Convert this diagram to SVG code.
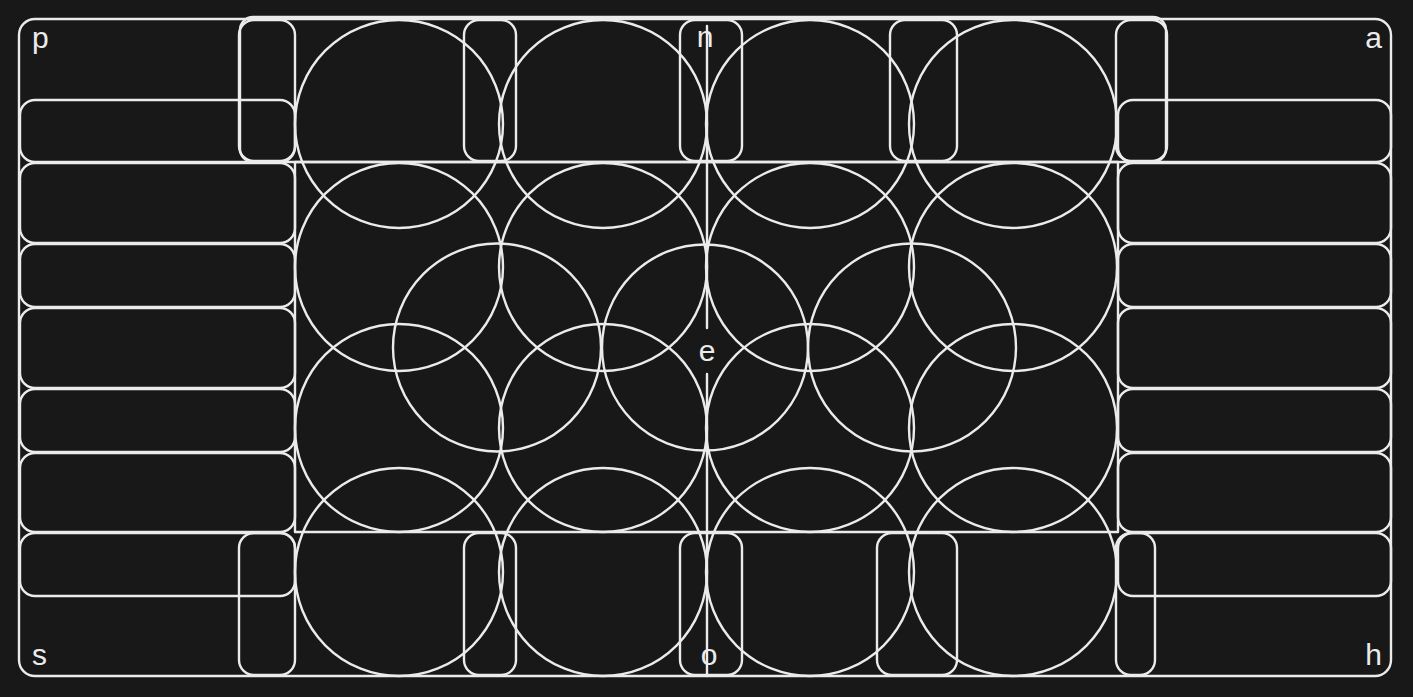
<svg xmlns="http://www.w3.org/2000/svg" width="1413" height="697" viewBox="0 0 1413 697">
<style>
.s{fill:none;stroke:#ebebeb;stroke-width:2.4;stroke-linecap:round;stroke-linejoin:round}
.t{fill:#ebebeb;font-family:"Liberation Sans",Arial,sans-serif;font-size:30px}
</style>
<rect x="0" y="0" width="1413" height="697" fill="#181818"/>
<g id="frame"><rect class="s" x="19" y="19" width="1372" height="657" rx="16"/></g>
<g id="top-band"><rect class="s" x="240" y="17" width="926" height="145" rx="13"/></g>
<g id="center-block"><rect class="s" x="295" y="162" width="823" height="370"/></g>
<g id="left-column">
<rect class="s" x="20" y="100" width="275" height="62" rx="15"/>
<rect class="s" x="20" y="163" width="275" height="80" rx="15"/>
<rect class="s" x="20" y="244" width="275" height="63" rx="15"/>
<rect class="s" x="20" y="308" width="275" height="80" rx="15"/>
<rect class="s" x="20" y="389" width="275" height="63" rx="15"/>
<rect class="s" x="20" y="453" width="275" height="79" rx="15"/>
<rect class="s" x="20" y="533" width="275" height="63" rx="15"/>
</g>
<g id="right-column">
<rect class="s" x="1118" y="100" width="273" height="62" rx="15"/>
<rect class="s" x="1118" y="163" width="273" height="80" rx="15"/>
<rect class="s" x="1118" y="244" width="273" height="63" rx="15"/>
<rect class="s" x="1118" y="308" width="273" height="80" rx="15"/>
<rect class="s" x="1118" y="389" width="273" height="63" rx="15"/>
<rect class="s" x="1118" y="453" width="273" height="79" rx="15"/>
<rect class="s" x="1118" y="533" width="273" height="63" rx="15"/>
</g>
<g id="top-pills">
<rect class="s" x="239" y="20" width="56" height="141" rx="15"/>
<rect class="s" x="464" y="20" width="52" height="141" rx="15"/>
<rect class="s" x="680" y="20" width="62" height="141" rx="15"/>
<rect class="s" x="890" y="20" width="67" height="141" rx="15"/>
<rect class="s" x="1116" y="20" width="51" height="141" rx="15"/>
</g>
<g id="bottom-pills">
<rect class="s" x="239" y="533" width="56" height="142" rx="15"/>
<rect class="s" x="464" y="533" width="52" height="142" rx="15"/>
<rect class="s" x="680" y="533" width="62" height="142" rx="15"/>
<rect class="s" x="877" y="533" width="80" height="142" rx="15"/>
<rect class="s" x="1116" y="533" width="39" height="142" rx="15"/>
</g>
<g id="circles-row1">
<circle class="s" cx="399" cy="124" r="104"/>
<circle class="s" cx="603" cy="124" r="104"/>
<circle class="s" cx="810" cy="124" r="104"/>
<circle class="s" cx="1013" cy="124" r="104"/>
</g>
<g id="circles-row2">
<circle class="s" cx="399" cy="267" r="104"/>
<circle class="s" cx="603" cy="267" r="104"/>
<circle class="s" cx="810" cy="267" r="104"/>
<circle class="s" cx="1013" cy="267" r="104"/>
</g>
<g id="circles-middle">
<circle class="s" cx="497" cy="347.5" r="104"/>
<circle class="s" cx="705" cy="347.5" r="103"/>
<circle class="s" cx="912" cy="347.5" r="104"/>
</g>
<g id="circles-row4">
<circle class="s" cx="399" cy="428" r="104"/>
<circle class="s" cx="603" cy="428" r="104"/>
<circle class="s" cx="810" cy="428" r="104"/>
<circle class="s" cx="1013" cy="428" r="104"/>
</g>
<g id="circles-row5">
<circle class="s" cx="399" cy="572" r="104"/>
<circle class="s" cx="603" cy="572" r="104"/>
<circle class="s" cx="810" cy="572" r="104"/>
<circle class="s" cx="1013" cy="572" r="104"/>
</g>
<g id="connectors">
<path class="s" d="M707 26 L707 328 M707 374 L707 676"/>
</g>
<g id="labels">
<text class="t" x="32" y="48">p</text>
<text class="t" x="1382" y="48" text-anchor="end">a</text>
<text class="t" x="32" y="665">s</text>
<text class="t" x="1382" y="665" text-anchor="end">h</text>
<text class="t" x="705" y="47" text-anchor="middle">n</text>
<text class="t" x="709" y="665" text-anchor="middle">o</text>
<text class="t" x="707" y="361" text-anchor="middle">e</text>
</g>
</svg>
